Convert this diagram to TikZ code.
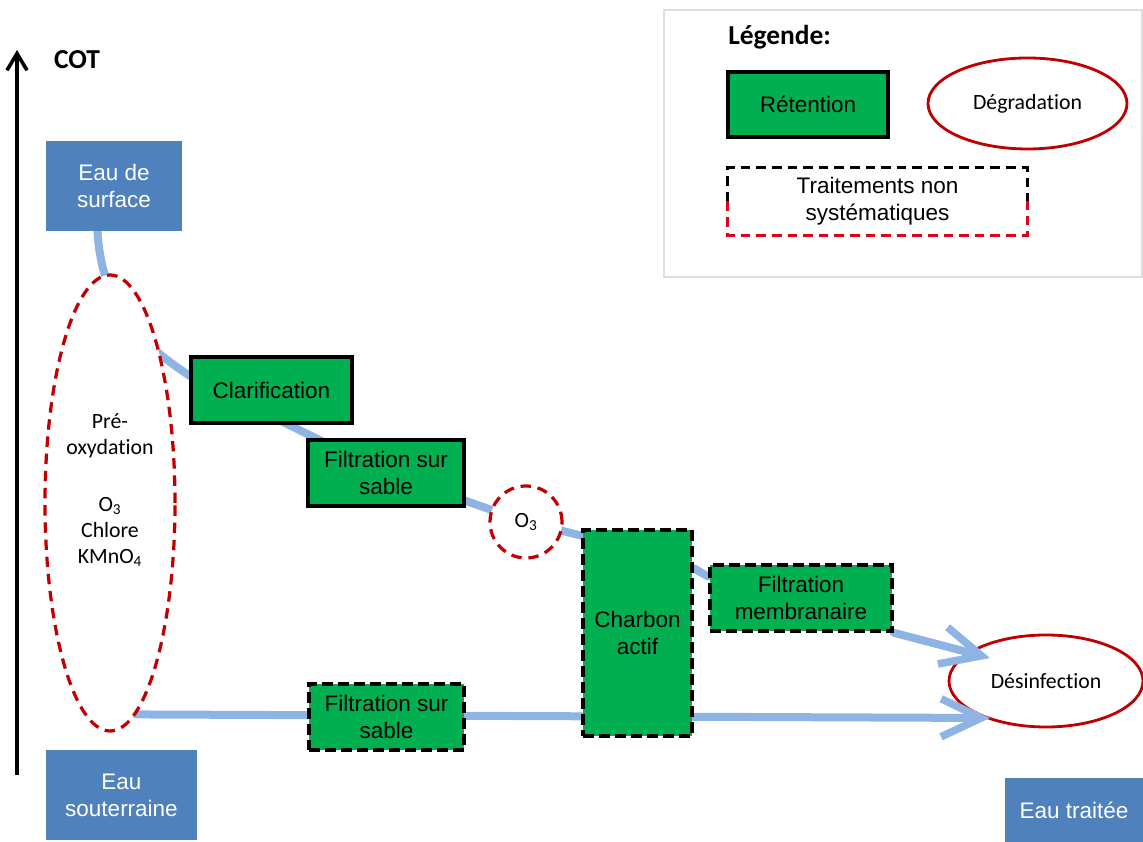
\documentclass[tikz,border=0pt]{standalone}
\usepackage{fontspec}
\setmainfont{Liberation Sans}
\newfontfamily\calibri[Ligatures=NoCommon]{Carlito}
\usetikzlibrary{shapes.geometric,arrows.meta,backgrounds}

\definecolor{srcblue}{RGB}{79,129,189}
\definecolor{retgreen}{RGB}{0,176,80}
\definecolor{degred}{RGB}{192,0,0}
\definecolor{nsred}{RGB}{220,0,30}
\definecolor{flowblue}{RGB}{142,180,227}

\newcommand{\arialtxt}{\fontsize{16}{19.2}\selectfont}
\newcommand{\calitxt}{\calibri\fontsize{15.5}{18.5}\selectfont}
\newcommand{\titletxt}{\calibri\bfseries\fontsize{19.5}{23}\selectfont}

\begin{document}
\begin{tikzpicture}[
	srcbox/.style={fill=srcblue, text=white, align=center, inner sep=0pt, font=\arialtxt},
	retbox/.style={draw=black, line width=2.5pt, fill=retgreen, align=center, inner sep=0pt, font=\arialtxt},
	optbox/.style={retbox, dash pattern=on 0.27cm off 0.13cm},
	degell/.style={ellipse, draw=degred, line width=2pt, fill=white, align=center, inner sep=0pt, font=\calitxt},
	optell/.style={degell, line width=2.3pt, dash pattern=on 0.26cm off 0.17cm},
	nsdash/.style={line width=0.07cm, dash pattern=on 0.24cm off 0.15cm},
	flow/.style={draw=flowblue, line width=0.2cm, line cap=round, line join=round},
	flowarr/.style={flow, -{Straight Barb[length=1cm,width=0.95cm,line width=0.19cm]}}
	]
		\useasboundingbox (0,0) rectangle (28.575,21.05);
		
		% axe
		\coordinate (axbot) at (0.425,1.675);
		\coordinate (axtop) at (0.425,19.8);
		\draw[line width=0.09cm, -{Straight Barb[length=0.42cm,width=0.5cm,line width=0.09cm]}] (axbot) -- (axtop);
		\node[font=\titletxt] (cot) at (1.925,19.55){COT};
		
		% sources
		\node[srcbox, minimum width=3.4cm, minimum height=2.25cm] (surf) at (2.85,16.4){Eau de\\surface};
		\node[srcbox, minimum width=3.775cm, minimum height=2.25cm] (sout) at (3.0375,1.175){Eau\\souterraine};
		\node[srcbox, minimum width=3.45cm, minimum height=1.6cm] (traitee) at (26.85,0.8){Eau traitée};
		
		% traitements
		\node[optell, minimum width=3.25cm, minimum height=11.4cm] (preox) at (2.75,8.475){};
		\node[font=\calitxt, align=center] (preoxtxt) at (2.75,8.79){Pré-\\oxydation\\[22pt]O\textsubscript{3}\\Chlore\\KMnO\textsubscript{4}};
		\node[retbox, minimum width=4.025cm, minimum height=1.65cm] (clar) at (6.7875,11.3){Clarification};
		\node[retbox, minimum width=3.9cm, minimum height=1.65cm] (filtA) at (9.65,9.225){Filtration sur\\sable};
		\node[optell, circle, minimum size=1.8cm] (o3) at (13.15,8.0){O\textsubscript{3}};
		\node[optbox, minimum width=2.725cm, minimum height=5.15cm] (charbon) at (15.9375,5.225){Charbon\\actif};
		\node[optbox, minimum width=4.55cm, minimum height=1.65cm] (membr) at (20.025,6.1){Filtration\\membranaire};
		\node[optbox, minimum width=3.875cm, minimum height=1.65cm] (filtB) at (9.6625,3.125){Filtration sur\\sable};
		
		% legende
		\node[draw=gray!25, line width=0.04cm, minimum width=11.95cm, minimum height=6.675cm, inner sep=0pt] (legend) at (22.575,17.4625){};
		\node[font=\titletxt, anchor=west, inner sep=0pt] (legtitle) at (18.2,20.125){Légende:};
		\node[retbox, minimum width=4cm, minimum height=1.625cm] (reten) at (20.2,18.4375){Rétention};
		\node[degell, minimum width=4.975cm, minimum height=2.275cm] (degrad) at (25.6875,18.4625){Dégradation};
		\node[font=\arialtxt, align=center, minimum width=7.475cm, minimum height=1.675cm, inner sep=0pt] (nonsys) at (21.9375,16.0125){Traitements non\\systématiques};
		\draw[nsdash, black] (nonsys.west) |- (nonsys.north east) -- (nonsys.east);
		\draw[nsdash, nsred] (nonsys.west) |- (nonsys.south east) -- (nonsys.east);
		
		% flux
		\begin{scope}[on background layer]
			\node[degell, minimum width=4.85cm, minimum height=2.3cm] (desinf) at (26.15,4.025){Désinfection};
			\coordinate (tipA) at ([shift={(-1.4,0.575)}]desinf.center);
			\coordinate (tipB) at ([shift={(-1.4,-0.925)}]desinf.center);
			\draw[flow] (surf.250) .. controls +(0.1,-1.8) and +(-1.3,0.85) .. (clar.170) -- (filtA.center) -- (o3.center) -- (charbon.120);
			\draw[flow] (charbon.49) -- (membr.167);
			\draw[flowarr] (membr.south east) -- (tipA);
			\draw[flowarr] (preox.-83) -- (tipB);
		\end{scope}
	\end{tikzpicture}
\end{document}
